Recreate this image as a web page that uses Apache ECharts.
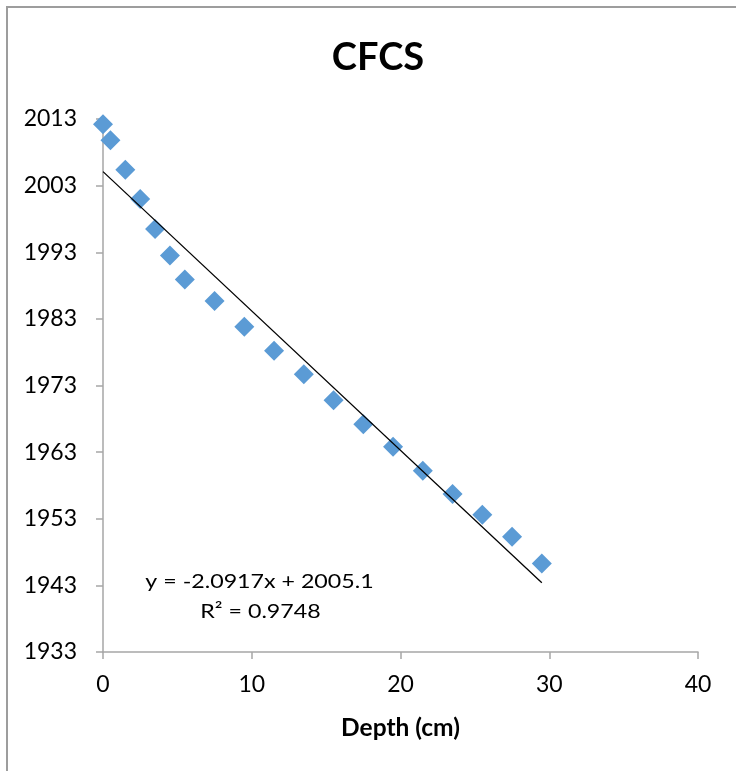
<!DOCTYPE html>
<html>
<head>
<meta charset="utf-8">
<script src="https://cdn.jsdelivr.net/npm/echarts@6/dist/echarts.min.js"></script>
<style>
  html, body { margin: 0; padding: 0; background: #fff; }
  #chart { width: 736px; height: 771px; }
</style>
</head>
<body>
<div id="chart"></div>
<script>
// Data
const depth = [0, 0.5, 1.5, 2.5, 3.5, 4.5, 5.5, 7.5, 9.5, 11.5, 13.5, 15.5, 17.5, 19.5, 21.5, 23.5, 25.5, 27.5, 29.5];
const year  = [2012.2, 2009.8, 2005.4, 2001.0, 1996.5, 1992.5, 1988.9, 1985.7, 1981.8, 1978.2, 1974.7, 1970.8, 1967.2, 1963.8, 1960.2, 1956.7, 1953.6, 1950.3, 1946.3];
// Linear trendline endpoints (from the shown equation)
const trendX = [0, 29.5];
const trendY = [2005.1, 1943.4];
const titleText = 'CFCS';
const xAxisName = 'Depth (cm)';
const eqLine1 = 'y = -2.0917x + 2005.1';
const eqLine2 = 'R² = 0.9748';

const FONT = 'Lato, "Open Sans", "Liberation Sans", sans-serif';

const chart = echarts.init(document.getElementById('chart'), null, { renderer: 'canvas' });

const scatterData = depth.map((d, i) => [d, year[i]]);
const trendData = trendX.map((d, i) => [d, trendY[i]]);

chart.setOption({
  animation: false,
  backgroundColor: '#ffffff',
  title: {
    text: titleText,
    left: 373,
    top: 34,
    textAlign: 'center',
    textStyle: { fontFamily: FONT, fontWeight: 'bold', fontSize: 38, color: '#000' }
  },
  grid: { left: 103, right: 38, top: 119, bottom: 119, containLabel: false },
  xAxis: {
    type: 'value',
    min: 0, max: 40, interval: 10,
    name: xAxisName,
    nameLocation: 'middle',
    nameGap: 64,
    nameTextStyle: { fontFamily: FONT, fontWeight: 'bold', fontSize: 24.5, color: '#000' },
    axisLine: { show: true, onZero: false, lineStyle: { color: '#a6a6a6', width: 1.5 } },
    axisTick: { show: true, length: 7, lineStyle: { color: '#a6a6a6', width: 1.5 } },
    axisLabel: { fontFamily: FONT, fontSize: 23, color: '#000', margin: 21 },
    splitLine: { show: false }
  },
  yAxis: {
    type: 'value',
    min: 1933, max: 2013, interval: 10,
    axisLine: { show: true, onZero: false, lineStyle: { color: '#a6a6a6', width: 1.5 } },
    axisTick: { show: true, length: 7, lineStyle: { color: '#a6a6a6', width: 1.5 } },
    axisLabel: { fontFamily: FONT, fontSize: 23, color: '#000', margin: 26, formatter: v => String(v) },
    splitLine: { show: false }
  },
  series: [
    {
      type: 'line',
      data: trendData,
      showSymbol: false,
      symbol: 'none',
      lineStyle: { color: '#000', width: 1.3 },
      silent: true,
      z: 3
    },
    {
      type: 'scatter',
      data: scatterData,
      symbol: 'diamond',
      symbolSize: 20,
      itemStyle: { color: '#5B9BD5', opacity: 1 },
      z: 2
    }
  ],
  graphic: [
    {
      type: 'rect',
      shape: { x: 7, y: 7, width: 1000, height: 1000 },
      style: { fill: 'none', stroke: '#9d9d9d', lineWidth: 2 },
      silent: true,
      z: -10
    },
    {
      type: 'text',
      x: 259.5, y: 572, scaleX: 1.16,
      style: { text: eqLine1, fontFamily: FONT, fontSize: 20, fill: '#000', align: 'center', verticalAlign: 'top' }
    },
    {
      type: 'text',
      x: 260.5, y: 602, scaleX: 1.16,
      style: { text: eqLine2, fontFamily: FONT, fontSize: 20, fill: '#000', align: 'center', verticalAlign: 'top' }
    }
  ]
});
</script>
</body>
</html>
